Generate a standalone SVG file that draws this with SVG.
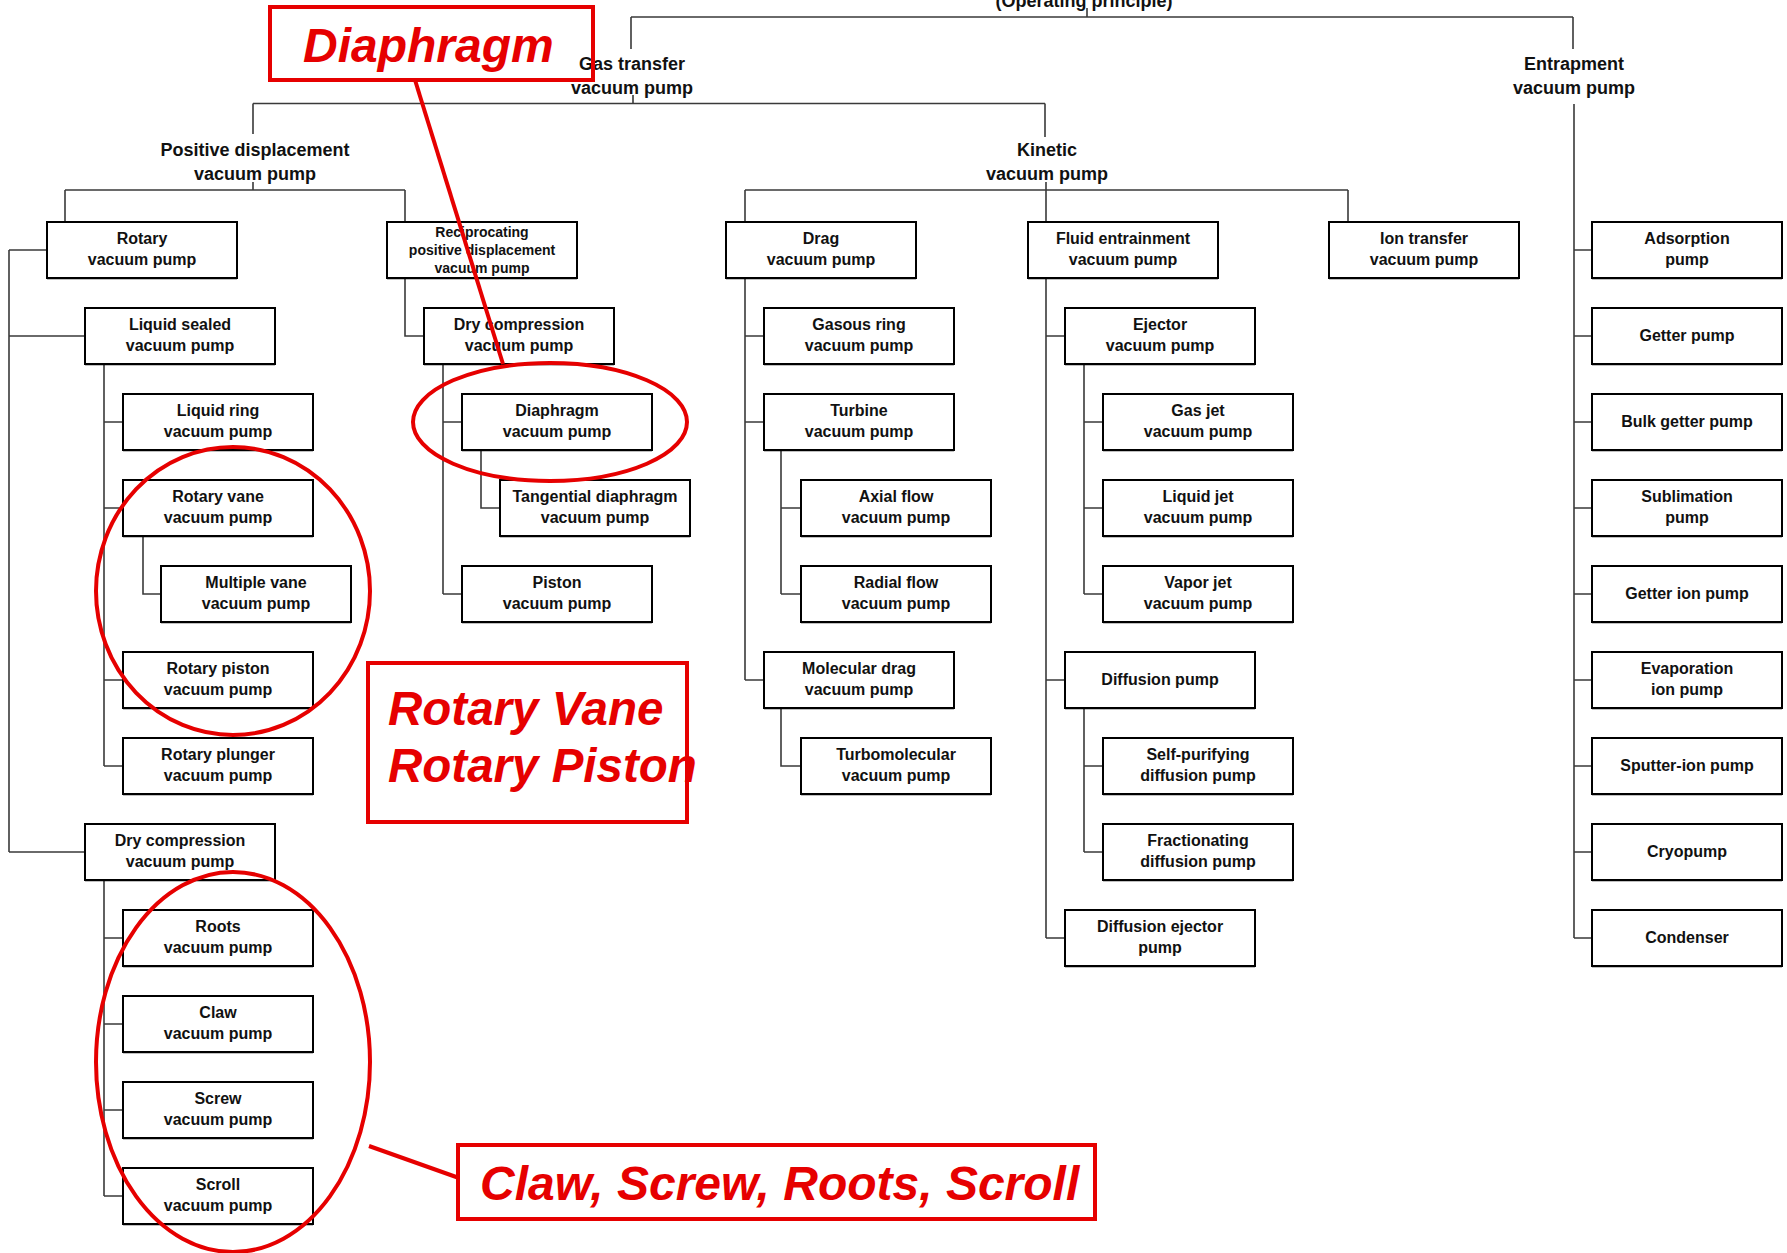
<svg xmlns="http://www.w3.org/2000/svg" width="1787" height="1253" viewBox="0 0 1787 1253">
<style>
.bg{fill:#fff}
.box{fill:#fff;stroke:#000;stroke-width:2}
.t{font-family:"Liberation Sans",Arial,sans-serif;font-weight:bold;font-size:16px;fill:#111;text-anchor:middle}
.ts{font-size:14px}
.cat{font-family:"Liberation Sans",Arial,sans-serif;font-weight:bold;font-size:18px;fill:#111;text-anchor:middle}
.c{fill:none;stroke:#3a3a3a;stroke-width:1.6}
.red{fill:none;stroke:#e60000;stroke-width:4}
.rt{font-family:"Liberation Sans",Arial,sans-serif;font-weight:bold;font-style:italic;font-size:48px;fill:#e60000}
</style>
<defs>
<g id="b"><rect class="box" x="0" y="0" width="190" height="56"/><line x1="0" y1="56.5" x2="190" y2="56.5" stroke="#000" stroke-width="1.5"/></g>
</defs>
<rect class="bg" x="0" y="0" width="1787" height="1253"/>

<g id="connectors">
<path class="c" d="M631,17 H1573 M1087,8 V17 M631,17 V49 M1573,17 V49"/>
<path class="c" d="M633,95 V103.5 M253,103.5 H1045 M253,103.5 V134 M1045,103.5 V137"/>
<path class="c" d="M253,182 V190 M65,190 H405 M65,190 V222 M405,190 V222"/>
<path class="c" d="M1046,182 V222 M745,190 H1348 M745,190 V222 M1348,190 V222"/>
<path class="c" d="M1574,104 V938 M1574,250 H1592 M1574,336 H1592 M1574,422 H1592 M1574,508 H1592 M1574,594 H1592 M1574,680 H1592 M1574,766 H1592 M1574,852 H1592 M1574,938 H1592"/>
<path class="c" d="M9,250 V852 M9,250 H47 M9,336 H85 M9,852 H85"/>
<path class="c" d="M104,364 V766 M104,422 H123 M104,508 H123 M104,680 H123 M104,766 H123"/>
<path class="c" d="M143,536 V594 H161"/>
<path class="c" d="M104,880 V1196 M104,938 H123 M104,1024 H123 M104,1110 H123 M104,1196 H123"/>
<path class="c" d="M405,278 V336 H424"/>
<path class="c" d="M443,364 V594 M443,422 H462 M443,594 H462"/>
<path class="c" d="M481,450 V508 H500"/>
<path class="c" d="M745,278 V680 M745,336 H764 M745,422 H764 M745,680 H764"/>
<path class="c" d="M781,450 V594 M781,508 H801 M781,594 H801"/>
<path class="c" d="M781,708 V766 H801"/>
<path class="c" d="M1046,278 V938 M1046,336 H1065 M1046,680 H1065 M1046,938 H1065"/>
<path class="c" d="M1084,364 V594 M1084,422 H1103 M1084,508 H1103 M1084,594 H1103"/>
<path class="c" d="M1084,708 V852 M1084,766 H1103 M1084,852 H1103"/>
</g>

<g id="categories">
<text class="cat" x="1084" y="6.5">(Operating principle)</text>
<text class="cat" x="632" y="70">Gas transfer<tspan x="632" y="93.5">vacuum pump</tspan></text>
<text class="cat" x="1574" y="70">Entrapment<tspan x="1574" y="93.5">vacuum pump</tspan></text>
<text class="cat" x="255" y="156">Positive displacement<tspan x="255" y="179.5">vacuum pump</tspan></text>
<text class="cat" x="1047" y="156">Kinetic<tspan x="1047" y="179.5">vacuum pump</tspan></text>
</g>

<g id="n-rotary" transform="translate(47,222)"><use href="#b"/><text class="t" x="95" y="21.5">Rotary<tspan x="95" y="43">vacuum pump</tspan></text></g>
<g id="n-liquid-sealed" transform="translate(85,308)"><use href="#b"/><text class="t" x="95" y="21.5">Liquid sealed<tspan x="95" y="43">vacuum pump</tspan></text></g>
<g id="n-liquid-ring" transform="translate(123,394)"><use href="#b"/><text class="t" x="95" y="21.5">Liquid ring<tspan x="95" y="43">vacuum pump</tspan></text></g>
<g id="n-rotary-vane" transform="translate(123,480)"><use href="#b"/><text class="t" x="95" y="21.5">Rotary vane<tspan x="95" y="43">vacuum pump</tspan></text></g>
<g id="n-multiple-vane" transform="translate(161,566)"><use href="#b"/><text class="t" x="95" y="21.5">Multiple vane<tspan x="95" y="43">vacuum pump</tspan></text></g>
<g id="n-rotary-piston" transform="translate(123,652)"><use href="#b"/><text class="t" x="95" y="21.5">Rotary piston<tspan x="95" y="43">vacuum pump</tspan></text></g>
<g id="n-rotary-plunger" transform="translate(123,738)"><use href="#b"/><text class="t" x="95" y="21.5">Rotary plunger<tspan x="95" y="43">vacuum pump</tspan></text></g>
<g id="n-dry-compression-l" transform="translate(85,824)"><use href="#b"/><text class="t" x="95" y="21.5">Dry compression<tspan x="95" y="43">vacuum pump</tspan></text></g>
<g id="n-roots" transform="translate(123,910)"><use href="#b"/><text class="t" x="95" y="21.5">Roots<tspan x="95" y="43">vacuum pump</tspan></text></g>
<g id="n-claw" transform="translate(123,996)"><use href="#b"/><text class="t" x="95" y="21.5">Claw<tspan x="95" y="43">vacuum pump</tspan></text></g>
<g id="n-screw" transform="translate(123,1082)"><use href="#b"/><text class="t" x="95" y="21.5">Screw<tspan x="95" y="43">vacuum pump</tspan></text></g>
<g id="n-scroll" transform="translate(123,1168)"><use href="#b"/><text class="t" x="95" y="21.5">Scroll<tspan x="95" y="43">vacuum pump</tspan></text></g>

<g id="n-reciprocating" transform="translate(387,222)"><use href="#b"/><text class="t ts" x="95" y="14.5">Reciprocating<tspan x="95" y="32.5">positive displacement</tspan><tspan x="95" y="50.5">vacuum pump</tspan></text></g>
<g id="n-dry-compression-r" transform="translate(424,308)"><use href="#b"/><text class="t" x="95" y="21.5">Dry compression<tspan x="95" y="43">vacuum pump</tspan></text></g>
<g id="n-diaphragm" transform="translate(462,394)"><use href="#b"/><text class="t" x="95" y="21.5">Diaphragm<tspan x="95" y="43">vacuum pump</tspan></text></g>
<g id="n-tangential" transform="translate(500,480)"><use href="#b"/><text class="t" x="95" y="21.5">Tangential diaphragm<tspan x="95" y="43">vacuum pump</tspan></text></g>
<g id="n-piston" transform="translate(462,566)"><use href="#b"/><text class="t" x="95" y="21.5">Piston<tspan x="95" y="43">vacuum pump</tspan></text></g>

<g id="n-drag" transform="translate(726,222)"><use href="#b"/><text class="t" x="95" y="21.5">Drag<tspan x="95" y="43">vacuum pump</tspan></text></g>
<g id="n-gasous-ring" transform="translate(764,308)"><use href="#b"/><text class="t" x="95" y="21.5">Gasous ring<tspan x="95" y="43">vacuum pump</tspan></text></g>
<g id="n-turbine" transform="translate(764,394)"><use href="#b"/><text class="t" x="95" y="21.5">Turbine<tspan x="95" y="43">vacuum pump</tspan></text></g>
<g id="n-axial" transform="translate(801,480)"><use href="#b"/><text class="t" x="95" y="21.5">Axial flow<tspan x="95" y="43">vacuum pump</tspan></text></g>
<g id="n-radial" transform="translate(801,566)"><use href="#b"/><text class="t" x="95" y="21.5">Radial flow<tspan x="95" y="43">vacuum pump</tspan></text></g>
<g id="n-molecular-drag" transform="translate(764,652)"><use href="#b"/><text class="t" x="95" y="21.5">Molecular drag<tspan x="95" y="43">vacuum pump</tspan></text></g>
<g id="n-turbomolecular" transform="translate(801,738)"><use href="#b"/><text class="t" x="95" y="21.5">Turbomolecular<tspan x="95" y="43">vacuum pump</tspan></text></g>

<g id="n-fluid" transform="translate(1028,222)"><use href="#b"/><text class="t" x="95" y="21.5">Fluid entrainment<tspan x="95" y="43">vacuum pump</tspan></text></g>
<g id="n-ejector" transform="translate(1065,308)"><use href="#b"/><text class="t" x="95" y="21.5">Ejector<tspan x="95" y="43">vacuum pump</tspan></text></g>
<g id="n-gas-jet" transform="translate(1103,394)"><use href="#b"/><text class="t" x="95" y="21.5">Gas jet<tspan x="95" y="43">vacuum pump</tspan></text></g>
<g id="n-liquid-jet" transform="translate(1103,480)"><use href="#b"/><text class="t" x="95" y="21.5">Liquid jet<tspan x="95" y="43">vacuum pump</tspan></text></g>
<g id="n-vapor-jet" transform="translate(1103,566)"><use href="#b"/><text class="t" x="95" y="21.5">Vapor jet<tspan x="95" y="43">vacuum pump</tspan></text></g>
<g id="n-diffusion" transform="translate(1065,652)"><use href="#b"/><text class="t" x="95" y="32.5">Diffusion pump</text></g>
<g id="n-self-purifying" transform="translate(1103,738)"><use href="#b"/><text class="t" x="95" y="21.5">Self-purifying<tspan x="95" y="43">diffusion pump</tspan></text></g>
<g id="n-fractionating" transform="translate(1103,824)"><use href="#b"/><text class="t" x="95" y="21.5">Fractionating<tspan x="95" y="43">diffusion pump</tspan></text></g>
<g id="n-diffusion-ejector" transform="translate(1065,910)"><use href="#b"/><text class="t" x="95" y="21.5">Diffusion ejector<tspan x="95" y="43">pump</tspan></text></g>

<g id="n-ion-transfer" transform="translate(1329,222)"><use href="#b"/><text class="t" x="95" y="21.5">Ion transfer<tspan x="95" y="43">vacuum pump</tspan></text></g>

<g id="n-adsorption" transform="translate(1592,222)"><use href="#b"/><text class="t" x="95" y="21.5">Adsorption<tspan x="95" y="43">pump</tspan></text></g>
<g id="n-getter" transform="translate(1592,308)"><use href="#b"/><text class="t" x="95" y="32.5">Getter pump</text></g>
<g id="n-bulk-getter" transform="translate(1592,394)"><use href="#b"/><text class="t" x="95" y="32.5">Bulk getter pump</text></g>
<g id="n-sublimation" transform="translate(1592,480)"><use href="#b"/><text class="t" x="95" y="21.5">Sublimation<tspan x="95" y="43">pump</tspan></text></g>
<g id="n-getter-ion" transform="translate(1592,566)"><use href="#b"/><text class="t" x="95" y="32.5">Getter ion pump</text></g>
<g id="n-evaporation-ion" transform="translate(1592,652)"><use href="#b"/><text class="t" x="95" y="21.5">Evaporation<tspan x="95" y="43">ion pump</tspan></text></g>
<g id="n-sputter-ion" transform="translate(1592,738)"><use href="#b"/><text class="t" x="95" y="32.5">Sputter-ion pump</text></g>
<g id="n-cryopump" transform="translate(1592,824)"><use href="#b"/><text class="t" x="95" y="32.5">Cryopump</text></g>
<g id="n-condenser" transform="translate(1592,910)"><use href="#b"/><text class="t" x="95" y="32.5">Condenser</text></g>

<g id="annotations">
<rect class="red" x="270" y="7" width="323" height="73"/>
<text class="rt" x="303" y="62">Diaphragm</text>
<line class="red" x1="415" y1="80" x2="503" y2="364"/>
<ellipse class="red" cx="550" cy="422" rx="137" ry="59"/>
<ellipse class="red" cx="233" cy="591" rx="137" ry="144"/>
<rect class="red" x="368" y="663" width="319" height="159"/>
<text class="rt" x="388" y="725" style="font-size:47.5px">Rotary Vane</text>
<text class="rt" x="388" y="782" style="font-size:47.5px">Rotary Piston</text>
<ellipse class="red" cx="233" cy="1062" rx="137" ry="190"/>
<line class="red" x1="369" y1="1146" x2="459" y2="1178"/>
<rect class="red" x="458" y="1145" width="637" height="74"/>
<text class="rt" x="480" y="1200">Claw, Screw, Roots, Scroll</text>
</g>
</svg>
